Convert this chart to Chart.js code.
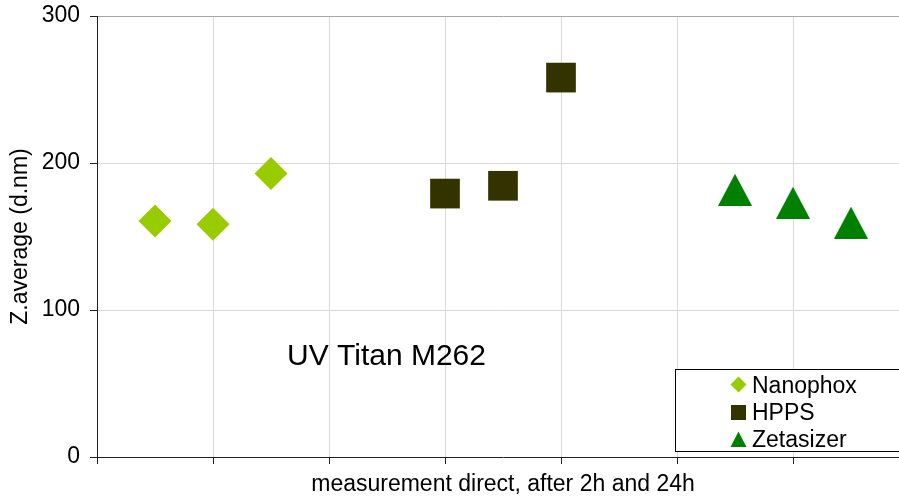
<!DOCTYPE html>
<html>
<head>
<meta charset="utf-8">
<script src="https://cdn.jsdelivr.net/npm/chart.js@4/dist/chart.umd.min.js"></script>
<style>
  html, body { margin: 0; padding: 0; background: #fff; overflow: hidden; }
  canvas { display: block; }
</style>
</head>
<body>
<canvas id="c" width="930" height="500"></canvas>
<script>
// ---- data ----
const seriesNames = ['Nanophox', 'HPPS', 'Zetasizer'];
const nanophoxX = [1, 2, 3];
const nanophoxY = [160.5, 158.3, 192.8];
const hppsX = [6, 7, 8];
const hppsY = [179.2, 184.5, 258.1];
const zetasizerX = [11, 12, 13];
const zetasizerY = [181.8, 173.0, 159.4];
const yTicks = [0, 100, 200, 300];
const xTitle = 'measurement direct, after 2h and 24h';
const yTitle = 'Z.average (d.nm)';
const annotationText = 'UV Titan M262';

const FONT = "'Liberation Sans', Arial, sans-serif";
const colors = ['#99CC00', '#333300', '#008000'];

function toPoints(xs, ys) { return xs.map((x, i) => ({ x: x, y: ys[i] })); }

// triangle marker (centered on its bounding box)
function triangleCanvas(w, h, color) {
  const c = document.createElement('canvas');
  c.width = w; c.height = h;
  const g = c.getContext('2d');
  g.fillStyle = color;
  g.beginPath();
  g.moveTo(w / 2, 0);
  g.lineTo(w, h);
  g.lineTo(0, h);
  g.closePath();
  g.fill();
  return c;
}
const triImg = triangleCanvas(34, 32, colors[2]);

const overlayPlugin = {
  id: 'overlay',
  afterDraw(chart) {
    const ctx = chart.ctx;
    const a = chart.chartArea;
    ctx.save();
    // annotation text
    ctx.font = '30px ' + FONT;
    ctx.fillStyle = '#000';
    ctx.textAlign = 'left';
    ctx.textBaseline = 'alphabetic';
    ctx.fillText(annotationText, a.left + 190, a.bottom - 92);

    // legend box
    const bx = 675.5, by = 369.5, bw = 300, bh = 82;
    ctx.fillStyle = '#fff';
    ctx.fillRect(bx, by, bw, bh);
    ctx.strokeStyle = '#000';
    ctx.lineWidth = 1;
    ctx.strokeRect(bx, by, bw, bh);

    const mx = 738.5;
    const rows = [384.5, 412.5, 439.5];
    const baselines = [392.5, 419.5, 446.5];
    // diamond
    ctx.fillStyle = colors[0];
    ctx.beginPath();
    ctx.moveTo(mx - 8, rows[0]);
    ctx.lineTo(mx, rows[0] - 8);
    ctx.lineTo(mx + 8, rows[0]);
    ctx.lineTo(mx, rows[0] + 8);
    ctx.closePath();
    ctx.fill();
    // square
    ctx.fillStyle = colors[1];
    ctx.fillRect(mx - 7.5, rows[1] - 7.5, 15, 15);
    // triangle
    ctx.fillStyle = colors[2];
    ctx.beginPath();
    ctx.moveTo(mx, rows[2] - 8);
    ctx.lineTo(mx + 8, rows[2] + 7.5);
    ctx.lineTo(mx - 8, rows[2] + 7.5);
    ctx.closePath();
    ctx.fill();

    ctx.fillStyle = '#000';
    ctx.font = '23px ' + FONT;
    seriesNames.forEach((n, i) => ctx.fillText(n, 752, baselines[i]));
    ctx.restore();
  }
};

new Chart(document.getElementById('c'), {
  type: 'scatter',
  data: {
    datasets: [
      { label: seriesNames[0], data: toPoints(nanophoxX, nanophoxY),
        pointStyle: 'rectRot', pointRadius: 16.5, pointHoverRadius: 16.5,
        backgroundColor: colors[0], borderColor: colors[0], pointBorderWidth: 0 },
      { label: seriesNames[1], data: toPoints(hppsX, hppsY),
        pointStyle: 'rect', pointRadius: 21, pointHoverRadius: 21,
        backgroundColor: colors[1], borderColor: colors[1], pointBorderWidth: 0 },
      { label: seriesNames[2], data: toPoints(zetasizerX, zetasizerY),
        pointStyle: triImg, pointRadius: 17, pointHoverRadius: 17,
        backgroundColor: colors[2], borderColor: colors[2], pointBorderWidth: 0 }
    ]
  },
  options: {
    responsive: false,
    devicePixelRatio: 1,
    animation: false,
    layout: { autoPadding: false, padding: { top: 16, right: 21, left: 0, bottom: 0 } },
    plugins: { legend: { display: false }, tooltip: { enabled: false } },
    scales: {
      x: {
        type: 'linear', min: 0, max: 14,
        ticks: { stepSize: 2, display: false },
        grid: {
          color: (c) => (c.tick && c.tick.value === 0) ? 'rgba(0,0,0,0)' : '#d9d9d9',
          tickColor: '#222', tickLength: 7, drawTicks: true, lineWidth: 1
        },
        border: { color: '#222', width: 1 },
        title: { display: true, text: xTitle, color: '#000',
                 font: { family: FONT, size: 23 }, padding: { top: 0, bottom: 2 } },
        afterFit: (s) => { s.height = 43; s.paddingLeft = 0; s.paddingRight = 0; }
      },
      y: {
        min: 0, max: 300,
        afterBuildTicks: (s) => { s.ticks = yTicks.map(v => ({ value: v })); },
        ticks: { color: '#000', font: { family: FONT, size: 23 }, padding: 10 },
        grid: {
          color: (c) => {
            if (!c.tick) return '#d9d9d9';
            if (c.tick.value === 0) return 'rgba(0,0,0,0)';
            if (c.tick.value === 300) return '#a6a6a6';
            return '#d9d9d9';
          },
          tickColor: '#222', tickLength: 7, drawTicks: true, lineWidth: 1
        },
        border: { color: '#222', width: 1 },
        title: { display: true, text: yTitle, color: '#000',
                 font: { family: FONT, size: 23 }, padding: { top: 7, bottom: 0 } },
        afterFit: (s) => { s.width = 97; s.paddingTop = 0; s.paddingBottom = 0; }
      }
    }
  },
  plugins: [overlayPlugin]
});
</script>
</body>
</html>
